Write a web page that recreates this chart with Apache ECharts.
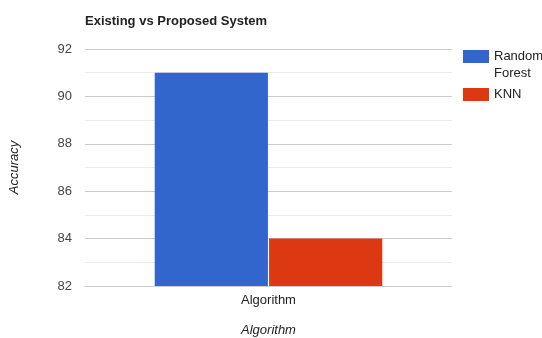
<!DOCTYPE html>
<html>
<head>
<meta charset="utf-8">
<script src="https://cdn.jsdelivr.net/npm/echarts@6/dist/echarts.min.js"></script>
<style>
  html, body { margin: 0; padding: 0; background: #fff; }
  #chart { width: 542px; height: 338px; }
</style>
</head>
<body>
<div id="chart"></div>
<script>
// data
var categories = ['Algorithm'];
var seriesNames = ['Random Forest', 'KNN'];
var randomForest = [91];
var knn = [84];
var colors = ['#3366cc', '#dc3912'];

var font = '"Liberation Sans", Arial, sans-serif';
var chart = echarts.init(document.getElementById('chart'));

chart.setOption({
  animation: false,
  textStyle: { fontFamily: font },
  title: {
    text: 'Existing vs Proposed System',
    left: 80, top: 10,
    textStyle: { fontSize: 13, fontWeight: 'bold', color: '#222', fontFamily: font }
  },
  legend: {
    orient: 'vertical',
    left: 458, top: 26,
    itemWidth: 26, itemHeight: 13, itemGap: 4,
    icon: 'rect',
    // wrapped names get a blank first line so the first word sits beside the swatch
    formatter: function (name) {
      return name.indexOf(' ') > 0 ? '\n' + name.replace(' ', '\n') : name;
    },
    textStyle: { fontSize: 13, color: '#222', lineHeight: 17, fontFamily: font },
    data: seriesNames
  },
  grid: { left: 85, right: 90, top: 49, bottom: 52, outerBoundsMode: 'none' },
  xAxis: {
    type: 'category',
    data: categories,
    name: 'Algorithm',
    nameLocation: 'middle',
    nameGap: 38,
    nameTextStyle: { fontStyle: 'italic', fontSize: 13, color: '#222', fontFamily: font },
    axisLine: { lineStyle: { color: '#ccc' } },
    axisTick: { show: false },
    axisLabel: { fontSize: 13, color: '#222', margin: 8, fontFamily: font }
  },
  yAxis: {
    type: 'value',
    min: 82, max: 92, interval: 2,
    name: 'Accuracy',
    nameLocation: 'middle',
    nameGap: 64,
    nameTextStyle: { fontStyle: 'italic', fontSize: 13, color: '#222', fontFamily: font },
    axisLine: { show: false },
    axisTick: { show: false },
    axisLabel: { fontSize: 13, color: '#444', margin: 13, fontFamily: font },
    splitLine: { lineStyle: { color: '#cccccc' } },
    minorTick: { show: false, splitNumber: 2 },
    minorSplitLine: { show: true, lineStyle: { color: '#ebebeb' } }
  },
  series: [
    {
      name: seriesNames[0], type: 'bar', data: randomForest,
      itemStyle: { color: colors[0] },
      barGap: '1%', barCategoryGap: '38%'
    },
    {
      name: seriesNames[1], type: 'bar', data: knn,
      itemStyle: { color: colors[1] },
      barGap: '1%', barCategoryGap: '38%'
    }
  ]
});
</script>
</body>
</html>
